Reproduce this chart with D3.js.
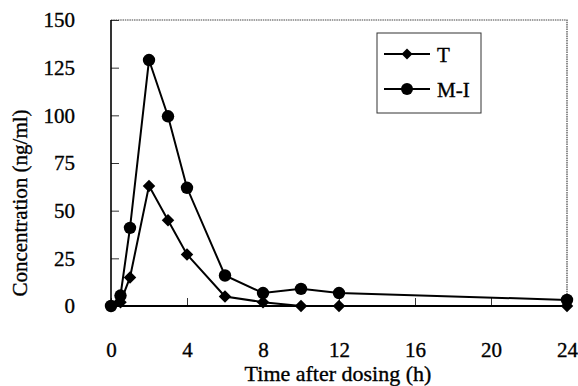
<!DOCTYPE html>
<html>
<head>
<meta charset="utf-8">
<script src="https://cdn.jsdelivr.net/npm/d3@7"></script>
<style>
body{margin:0;background:#fff;}
svg{display:block;}
svg text{font-family:"Liberation Serif","Times New Roman",Times,serif !important;fill:#000;stroke:#000;stroke-width:0.35px;}
</style>
</head>
<body>
<svg id="c" width="578" height="386"></svg>
<script>
const times = [0, 0.5, 1, 2, 3, 4, 6, 8, 10, 12, 24];
const seriesT = [0, 2, 15, 63, 45, 27, 5, 2, 0, 0, 0];
const seriesMI = [0, 5.5, 41, 129, 99.5, 62, 16, 6.8, 9, 6.8, 3.2];
const xTicks = [0, 4, 8, 12, 16, 20, 24];
const yTicks = [0, 25, 50, 75, 100, 125, 150];
const seriesNames = ["T", "M-I"];

const FONT = '"Liberation Serif","Times New Roman",Times,serif';
const svg = d3.select("#c");
const L = 111, R = 567, T = 20, B = 306;
const x = d3.scaleLinear().domain([0, 24]).range([L, R]);
const y = d3.scaleLinear().domain([0, 150]).range([B, T]);

// frame top and right (dotted grey)
svg.append("path")
  .attr("d", `M${L},${T}H${R}V${B}`)
  .attr("fill", "none").attr("stroke", "#444").attr("stroke-width", 1.2)
  .attr("stroke-dasharray", "1.5,0.8");

// y axis
const ya = svg.append("g").attr("transform", `translate(${L},0)`)
  .call(d3.axisLeft(y).tickValues(yTicks).tickSizeInner(-8).tickSizeOuter(0).tickPadding(36));
ya.attr("font-family", FONT);
ya.select(".domain").remove();
ya.selectAll(".tick line").attr("stroke", "#333").attr("stroke-width", 1);
ya.selectAll("text").style("font-size", "21px").attr("fill", "#000");

// x axis
const xa = svg.append("g").attr("transform", `translate(0,${B})`)
  .call(d3.axisBottom(x).tickValues(xTicks).tickSizeInner(-8).tickSizeOuter(0).tickPadding(36));
xa.attr("font-family", FONT);
xa.select(".domain").remove();
xa.selectAll(".tick line").attr("stroke", "#333").attr("stroke-width", 1);
xa.selectAll("text").style("font-size", "21px").attr("fill", "#000");

// axis lines
svg.append("line").attr("x1", L).attr("x2", L).attr("y1", T).attr("y2", B)
  .attr("stroke", "#000").attr("stroke-width", 1.6);
svg.append("line").attr("x1", L).attr("x2", R).attr("y1", B).attr("y2", B)
  .attr("stroke", "#000").attr("stroke-width", 2);

// titles
svg.append("text").attr("x", 338).attr("y", 381).attr("text-anchor", "middle")
  .attr("font-family", FONT).style("font-size", "22px").text("Time after dosing (h)");
svg.append("text").attr("transform", "translate(27,203) rotate(-90)").attr("text-anchor", "middle")
  .attr("font-family", FONT).style("font-size", "21px").text("Concentration (ng/ml)");

const line = d3.line().x(d => x(d[0])).y(d => y(d[1]));
const dataT = times.map((t, i) => [t, seriesT[i]]);
const dataMI = times.map((t, i) => [t, seriesMI[i]]);

const diamond = d3.symbol().type(d3.symbolSquare).size(78);
const diamondL = d3.symbol().type(d3.symbolSquare).size(60);

// T series
svg.append("path").datum(dataT).attr("d", line)
  .attr("fill", "none").attr("stroke", "#000").attr("stroke-width", 2);
svg.append("g").selectAll("path").data(dataT).join("path")
  .attr("d", diamond).attr("transform", d => `translate(${x(d[0])},${y(d[1])}) rotate(45)`)
  .attr("fill", "#000");

// M-I series
svg.append("path").datum(dataMI).attr("d", line)
  .attr("fill", "none").attr("stroke", "#000").attr("stroke-width", 2);
svg.append("g").selectAll("circle").data(dataMI).join("circle")
  .attr("cx", d => x(d[0])).attr("cy", d => y(d[1])).attr("r", 6.2)
  .attr("fill", "#000");

// legend
const lg = svg.append("g");
lg.append("rect").attr("x", 377).attr("y", 33).attr("width", 104).attr("height", 80)
  .attr("fill", "#fff").attr("stroke", "#333").attr("stroke-width", 1);
const ly = [54, 89];
seriesNames.forEach((name, i) => {
  lg.append("line").attr("x1", 384).attr("x2", 430).attr("y1", ly[i]).attr("y2", ly[i])
    .attr("stroke", "#000").attr("stroke-width", 2);
  if (i === 0) {
    lg.append("path").attr("d", diamondL).attr("transform", `translate(407,${ly[i]}) rotate(45)`).attr("fill", "#000");
  } else {
    lg.append("circle").attr("cx", 407).attr("cy", ly[i]).attr("r", 6).attr("fill", "#000");
  }
  lg.append("text").attr("x", 437).attr("y", ly[i] + 8).attr("font-family", FONT).style("font-size", "21px").text(name);
});
</script>
</body>
</html>
